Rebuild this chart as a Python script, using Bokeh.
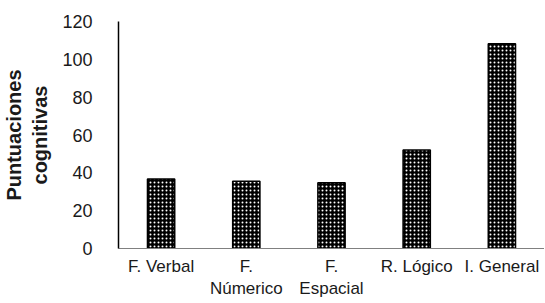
from bokeh.plotting import figure
from bokeh.models import Range1d, FixedTicker
from bokeh.embed import file_html
from bokeh.resources import INLINE

categories = ["F. Verbal", "F.\nNúmerico", "F.\nEspacial", "R. Lógico", "I. General"]
values = [36.7, 35.5, 34.7, 52.1, 108.2]
y_ticks = [0, 20, 40, 60, 80, 100, 120]

p = figure(x_range=categories, y_range=Range1d(0, 120), width=544, height=302,
           output_backend="svg", toolbar_location=None,
           min_border_left=115, min_border_right=0, min_border_top=21, min_border_bottom=54)
p.outline_line_color = None
p.xgrid.grid_line_color = None
p.ygrid.grid_line_color = None
p.x_range.range_padding = 0

p.vbar(x=categories, top=values, width=0.32, fill_color="black", line_color="black",
       line_width=1.5, hatch_pattern=".", hatch_color="white", hatch_scale=4, hatch_weight=1.2)

p.yaxis.ticker = FixedTicker(ticks=y_ticks)
p.yaxis.major_tick_line_color = None
p.yaxis.minor_tick_line_color = None
p.yaxis.axis_line_color = "black"
p.yaxis.axis_line_width = 1.5
p.yaxis.major_label_text_font = "Liberation Sans"
p.yaxis.major_label_text_font_size = "18px"
p.yaxis.major_label_text_color = "#1a1a1a"
p.yaxis.major_label_standoff = 20
p.yaxis.axis_label = "Puntuaciones\ncognitivas"
p.yaxis.axis_label_text_font = "Liberation Sans"
p.yaxis.axis_label_text_font_style = "bold"
p.yaxis.axis_label_text_font_size = "20px"
p.yaxis.axis_label_text_color = "#1a1a1a"
p.yaxis.axis_label_standoff = 8

p.xaxis.major_tick_line_color = None
p.xaxis.minor_tick_line_color = None
p.xaxis.axis_line_color = "#808080"
p.xaxis.axis_line_width = 1.2
p.xaxis.major_label_text_font = "Liberation Sans"
p.xaxis.major_label_text_font_size = "17px"
p.xaxis.major_label_text_color = "#1a1a1a"
p.xaxis.major_label_standoff = 2

open("out.html", "w").write(file_html(p, INLINE))
